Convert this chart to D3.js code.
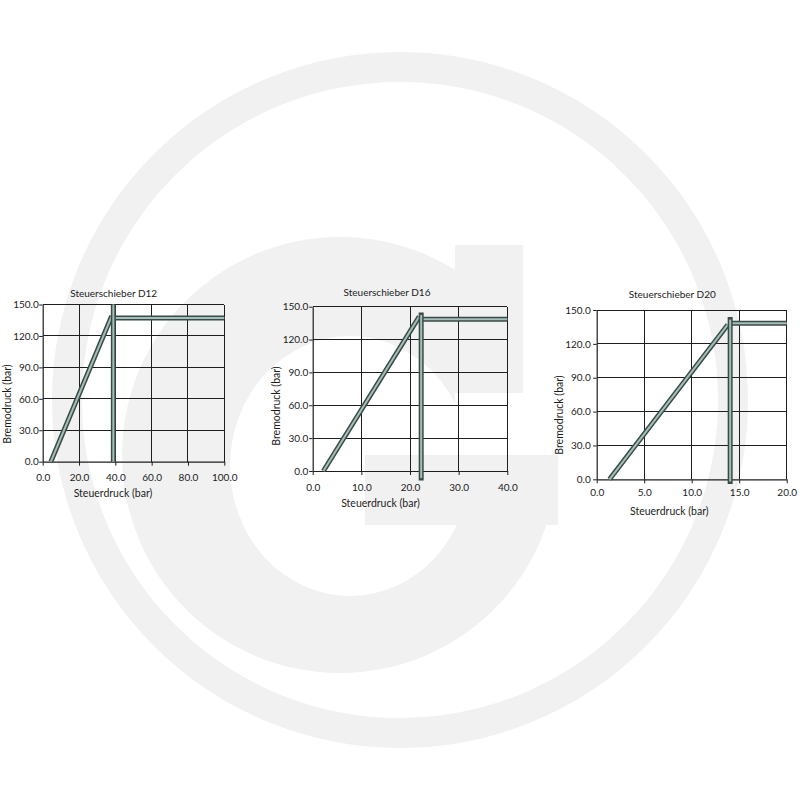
<!DOCTYPE html>
<html>
<head>
<meta charset="utf-8">
<script src="https://cdn.jsdelivr.net/npm/d3@7/dist/d3.min.js"></script>
<style>
  html, body { margin: 0; padding: 0; background: #ffffff; }
  svg { display: block; }
  text { font-family: Lato, "Open Sans", sans-serif; fill: #1c1c1c; }
</style>
</head>
<body>
<svg id="chart" width="800" height="800"></svg>
<script>
// ---------- data ----------
const titles = ["Steuerschieber D12", "Steuerschieber D16", "Steuerschieber D20"];
const xAxisLabel = "Steuerdruck (bar)";
const yAxisLabel = "Bremodruck (bar)";
const xMax = [100, 40, 20];
const yMax = 150;
const xTicksD12 = [0, 20, 40, 60, 80, 100];
const xTicksD16 = [0, 10, 20, 30, 40];
const xTicksD20 = [0, 5, 10, 15, 20];
const yTicks = [0, 30, 60, 90, 120, 150];

// rising ramp (Steuerdruck, Bremodruck)
const rampD12 = [[4.5, 0], [38.0, 139]];
const rampD16 = [[2.2, 0], [21.9, 141]];
const rampD20 = [[1.35, 0], [13.8, 137]];
// vertical valve line
const valveD12 = [[38.9, 150], [38.9, 0]];
const valveD16 = [[22.3, 142.5], [22.3, -6.5]];
const valveD20 = [[14.05, 141.5], [14.05, -2]];
// holding pressure level
const holdD12 = [[38.9, 137], [100, 137]];
const holdD16 = [[22.3, 138.5], [40, 138.5]];
const holdD20 = [[14.05, 138.2], [20, 138.2]];

const xTickSets = [xTicksD12, xTicksD16, xTicksD20];
const series = [
  { ramp: rampD12, hold: holdD12, valve: valveD12 },
  { ramp: rampD16, hold: holdD16, valve: valveD16 },
  { ramp: rampD20, hold: holdD20, valve: valveD20 }
];

// ---------- layout (pixels) ----------
const layouts = [
  { left: 42.7, right: 224.3, top: 304.5, bottom: 461.7, titleX: 113.7, titleY: 297, xlabX: 113, xlabY: 496.5, ylabX: 11, ylabY: 404, xPad: 8, yPad: 0.5, valveCap: "butt" },
  { left: 312.7, right: 507.3, top: 306.7, bottom: 471, titleX: 387, titleY: 295.5, xlabX: 380.5, xlabY: 506.5, ylabX: 279.5, ylabY: 406, xPad: 9, yPad: 1, valveCap: "square" },
  { left: 596.7, right: 786.7, top: 310, bottom: 479.3, titleX: 672.3, titleY: 298, xlabX: 669.3, xlabY: 514.5, ylabX: 563, ylabY: 415, xPad: 6, yPad: 2.5, valveCap: "square" }
];

const svg = d3.select("#chart");
svg.append("rect").attr("width", 800).attr("height", 800).attr("fill", "#ffffff");

// ---------- background watermark ----------
const wm = svg.append("g").attr("class", "watermark");
const wmGray = "#f1f1f1";
wm.append("circle").attr("cx", 400).attr("cy", 400).attr("r", 333)
  .attr("fill", "none").attr("stroke", wmGray).attr("stroke-width", 30);
wm.append("circle").attr("cx", 340).attr("cy", 455).attr("r", 218).attr("fill", wmGray);
wm.append("ellipse").attr("cx", 350).attr("cy", 466).attr("rx", 120).attr("ry", 130).attr("fill", "#ffffff");
wm.append("rect").attr("x", 455).attr("y", 220).attr("width", 115).attr("height", 235).attr("fill", "#ffffff");
wm.append("rect").attr("x", 455).attr("y", 245).attr("width", 68).attr("height", 148).attr("fill", wmGray);
wm.append("rect").attr("x", 365).attr("y", 455).attr("width", 193).attr("height", 70).attr("fill", wmGray);

// ---------- charts ----------
const fmt = d3.format(".1f");
const darkStroke = "#3b4a47";
const lightStroke = "#a3bfb9";
const gridColor = "#1e1e1e";

layouts.forEach((L, i) => {
  const x = d3.scaleLinear().domain([0, xMax[i]]).range([L.left, L.right]);
  const y = d3.scaleLinear().domain([0, yMax]).range([L.bottom, L.top]);
  const g = svg.append("g");

  // grid
  g.append("g").selectAll("line").data(xTickSets[i].slice(1)).join("line")
    .attr("x1", d => x(d)).attr("x2", d => x(d))
    .attr("y1", y(0)).attr("y2", y(yMax))
    .attr("stroke", gridColor).attr("stroke-width", 1)
    .attr("shape-rendering", "crispEdges");
  g.append("g").selectAll("line").data(yTicks.slice(1)).join("line")
    .attr("x1", x(0)).attr("x2", x(xMax[i]))
    .attr("y1", d => y(d)).attr("y2", d => y(d))
    .attr("stroke", gridColor).attr("stroke-width", 1)
    .attr("shape-rendering", "crispEdges");

  // axes
  const xa = g.append("g").attr("transform", `translate(0,${L.bottom})`)
    .call(d3.axisBottom(x).tickValues(xTickSets[i]).tickFormat(fmt)
      .tickSizeInner(4).tickSizeOuter(0).tickPadding(L.xPad));
  const ya = g.append("g").attr("transform", `translate(${L.left},0)`)
    .call(d3.axisLeft(y).tickValues(yTicks).tickFormat(fmt)
      .tickSizeInner(3.5).tickSizeOuter(0).tickPadding(L.yPad));
  [xa, ya].forEach(a => {
    a.select(".domain").attr("stroke", gridColor).attr("stroke-width", 1.2);
    a.selectAll(".tick line").attr("stroke", gridColor);
    a.selectAll(".tick text").attr("font-family", "Lato, sans-serif")
      .attr("font-size", 10).attr("fill", "#1c1c1c");
  });

  // data strips
  const line = d3.line().x(d => x(d[0])).y(d => y(d[1]));
  const s = series[i];
  [[s.ramp, "butt"], [s.hold, "butt"], [s.valve, L.valveCap]].forEach(([seg, cap]) => {
    g.append("path").attr("d", line(seg)).attr("fill", "none")
      .attr("stroke", darkStroke).attr("stroke-width", 5)
      .attr("stroke-linecap", cap);
    g.append("path").attr("d", line(seg)).attr("fill", "none")
      .attr("stroke", lightStroke).attr("stroke-width", 2)
      .attr("stroke-linecap", "butt");
  });

  // texts
  g.append("text").attr("x", L.titleX).attr("y", L.titleY)
    .attr("text-anchor", "middle").attr("font-size", 10).text(titles[i]);
  g.append("text").attr("x", L.xlabX).attr("y", L.xlabY)
    .attr("text-anchor", "middle").attr("font-size", 10.5).text(xAxisLabel);
  g.append("text").attr("transform", `translate(${L.ylabX},${L.ylabY}) rotate(-90)`)
    .attr("text-anchor", "middle").attr("font-size", 10.5).text(yAxisLabel);
});
</script>
</body>
</html>
